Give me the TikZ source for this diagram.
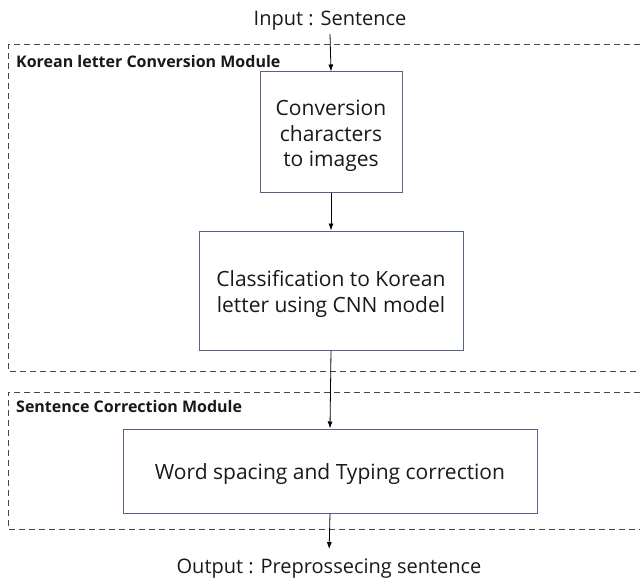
\documentclass[tikz,border=0pt]{standalone}
\usepackage{fontspec}
\setmainfont{Open Sans}
\usetikzlibrary{arrows.meta}
\definecolor{boxline}{RGB}{85,100,130}
\definecolor{dashline}{RGB}{70,70,70}
\definecolor{txt}{RGB}{25,25,25}
\tikzset{
  procbox/.style={draw=boxline, line width=1pt, fill=white, inner sep=0pt},
  boxtext/.style={align=center, text=txt, font=\fontsize{21}{25.5}\selectfont, inner sep=0pt},
  modframe/.style={draw=dashline, line width=1pt, dash pattern=on 6pt off 4pt},
  modlabel/.style={anchor=base west, inner sep=0pt, text=txt, font=\bfseries\fontsize{16}{19}\selectfont},
  iotext/.style={text=txt, font=\fontsize{20}{24}\selectfont, inner sep=3pt},
  flow/.style={draw=black, line width=0.8pt, -{Latex[length=7pt,width=5pt]}}
}
\begin{document}
\begin{tikzpicture}[x=1pt,y=-1pt]
\useasboundingbox (0,0) rectangle (640,578);
\clip (0,0) rectangle (640,578);
% module frames
\draw[modframe] (650,45) -- (8,45) -- (8,371) -- (650,371);
\draw[modframe] (650,392) -- (8,392) -- (8,529) -- (650,529);
\node[modlabel] (lab1) at (16,67) {Korean letter Conversion Module};
\node[modlabel] (lab2) at (16,412) {Sentence Correction Module};
% input/output
\node[iotext, anchor=base] (in) at (330,26) {Input : Sentence};
\node[iotext, anchor=base] (out) at (329,573) {Output : Preprossecing sentence};
% boxes
\node[procbox, minimum width=142pt, minimum height=120pt] (b1) at (331,132) {};
\node[procbox, minimum width=264pt, minimum height=119pt] (b2) at (331,290.5) {};
\node[procbox, minimum width=414pt, minimum height=84pt] (b3) at (330,471) {};
\node[boxtext] (t1) at (331,136) {Conversion\\characters\\to images};
\node[boxtext] (t2) at (331,294) {Classification to Korean\\letter using CNN model};
\node[boxtext] (t3) at (330,474) {Word spacing and Typing correction};
% flows
\draw[flow] (in.south) -- (b1.north);
\draw[flow] (b1.south) -- (b2.north);
\draw[flow] (b2.south) -- (b3.north);
\draw[flow, shorten >=6pt] (b3.south) -- (out.north);
\end{tikzpicture}
\end{document}
